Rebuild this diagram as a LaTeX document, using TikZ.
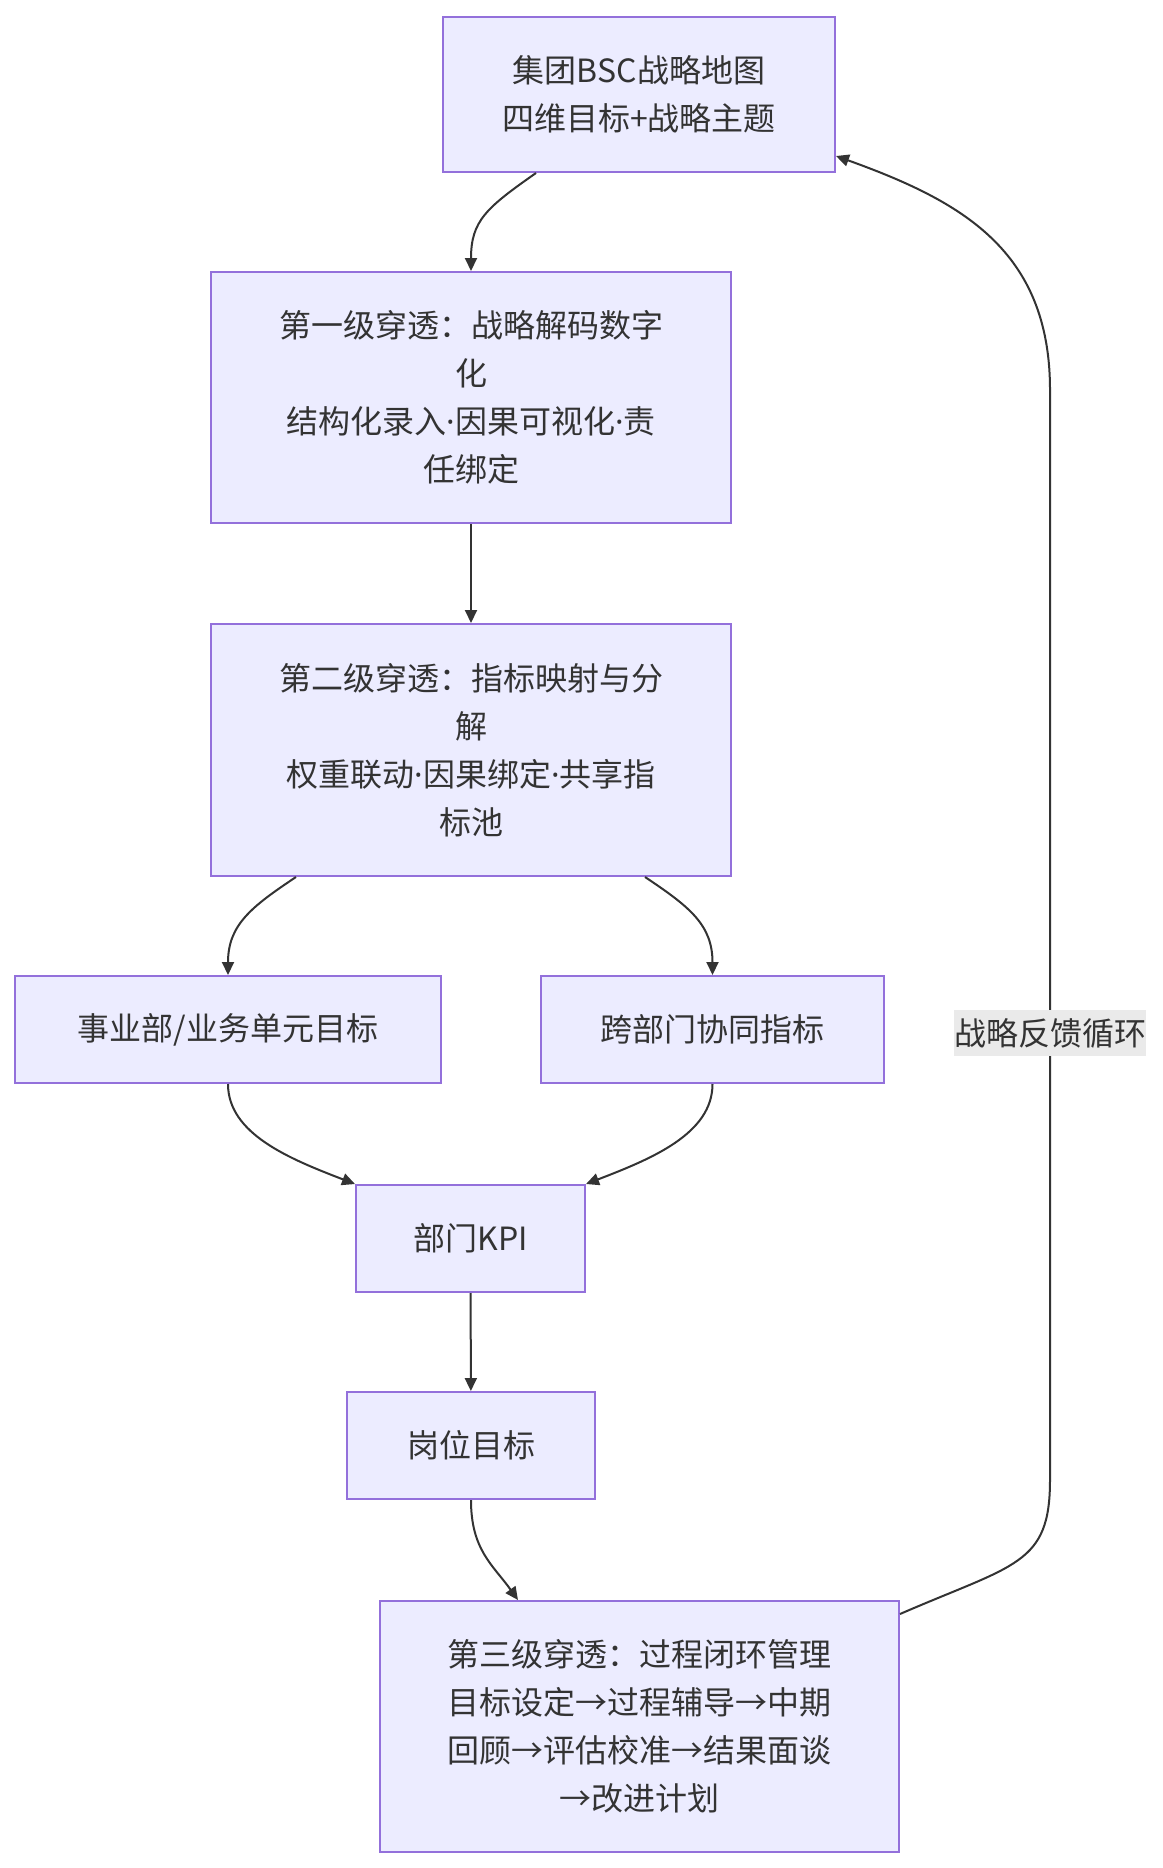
\documentclass[tikz,border=0pt]{standalone}
\usepackage{fontspec}
\setmainfont{Noto Sans CJK SC}
\newfontfamily\latinfont{Noto Sans}
\newcommand\middot{{\latinfont ·}}
\usepackage{tikz}
\usetikzlibrary{arrows.meta, positioning}
\definecolor{nodefill}{HTML}{ECECFF}
\definecolor{nodeline}{HTML}{9370DB}
\definecolor{inkgray}{HTML}{333333}
\definecolor{notegray}{HTML}{EAEAEA}

\begin{document}
\begin{tikzpicture}[
  x=1pt, y=-1pt,
  every node/.style={font=\fontsize{32}{48}\selectfont, text=inkgray},
  stage/.style={
    rectangle, align=center,
    draw=nodeline, line width=2pt,
    fill=nodefill, inner sep=0pt,
  },
  loopnote/.style={
    fill=notegray, inner xsep=0pt, inner ysep=0pt,
    minimum height=46pt,
  },
  arrow/.style={-{Triangle[length=13pt, width=12pt]}, line width=2pt, color=inkgray},
]
\useasboundingbox (0,0) rectangle (1162,1868);

\node[stage, minimum width=392pt, minimum height=155pt] (map)    at (639,94.5)   {集团BSC战略地图\\四维目标+战略主题};
\node[stage, minimum width=520pt, minimum height=251pt] (decode) at (471,397.5)  {第一级穿透：战略解码数字\\化\\结构化录入\middot 因果可视化\middot 责\\任绑定};
\node[stage, minimum width=520pt, minimum height=252pt] (split)  at (471,750)    {第二级穿透：指标映射与分\\解\\权重联动\middot 因果绑定\middot 共享指\\标池};
\node[stage, minimum width=426pt, minimum height=107pt] (unit)   at (228,1029.5) {事业部/业务单元目标};
\node[stage, minimum width=343pt, minimum height=107pt] (cross)  at (712.5,1029.5) {跨部门协同指标};
\node[stage, minimum width=229pt, minimum height=107pt] (kpi)    at (470.5,1238.5) {部门KPI};
\node[stage, minimum width=248pt, minimum height=107pt] (post)   at (471,1445.5) {岗位目标};
\node[stage, minimum width=519pt, minimum height=251pt] (cycle)  at (639.5,1726.5) {第三级穿透：过程闭环管理\\目标设定→过程辅导→中期\\回顾→评估校准→结果面谈\\→改进计划};

% cascade down
\draw[arrow] ([xshift=-103pt]map.south) .. controls +(-50,35) and +(0,-50) .. (decode.north);
\draw[arrow] (decode) -- (split);

% split into unit and cross-department targets
\draw[arrow] ([xshift=-175pt]split.south) .. controls +(-45,30) and +(0,-50) .. (unit.north);
\draw[arrow] ([xshift=174pt]split.south) .. controls +(45,30) and +(0,-50) .. (cross.north);

% merge into department KPI
\draw[arrow] (unit.south) .. controls +(0,50) and +(-65,-25) .. (kpi.north west);
\draw[arrow] (cross.south) .. controls +(0,50) and +(65,-25) .. (kpi.north east);

\draw[arrow] (kpi) -- (post);
\draw[arrow] (post.south) .. controls +(0,50) and +(-25,-35) .. ([xshift=-121.5pt]cycle.north);

% feedback loop
\draw[arrow] ([yshift=-14pt]cycle.north east) .. controls +(115,-50) and +(0,85) .. (1050,1480)
  -- node[loopnote, pos=0.41] (loop) {战略反馈循环} (1050,390)
  .. controls +(0,-140) and +(125,45) .. ([yshift=17pt]map.south east);

\end{tikzpicture}
\end{document}
